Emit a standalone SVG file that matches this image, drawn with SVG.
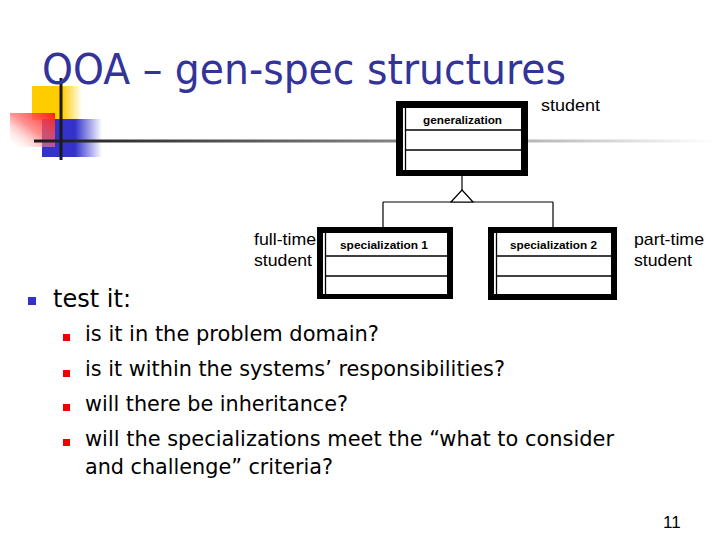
<svg xmlns="http://www.w3.org/2000/svg" width="720" height="540" viewBox="0 0 720 540">
<style>
.title{font-family:"DejaVu Sans","Liberation Sans",sans-serif;font-size:42px;fill:#333399}
.body{font-family:"DejaVu Sans","Liberation Sans",sans-serif;fill:#000}
.lbl{font-family:"Liberation Sans",Arial,sans-serif;font-size:17px;fill:#000}
.box{font-family:"Liberation Sans",Arial,sans-serif;font-size:11.5px;font-weight:bold;fill:#000}
.thin{stroke:#000;stroke-width:1.3;fill:none}
.conn{stroke:#000;stroke-width:1.2;fill:none}
</style>
<defs>
<linearGradient id="gy" x1="0" y1="0" x2="1" y2="0"><stop offset="0" stop-color="#ffcc00"/><stop offset="0.6" stop-color="#ffcc00"/><stop offset="1" stop-color="#ffcc00" stop-opacity="0"/></linearGradient>
<linearGradient id="gb" x1="0" y1="0" x2="1" y2="0"><stop offset="0" stop-color="#3333cc"/><stop offset="0.55" stop-color="#3333cc"/><stop offset="1" stop-color="#3333cc" stop-opacity="0"/></linearGradient>
<linearGradient id="gr" x1="1" y1="0" x2="0" y2="1"><stop offset="0" stop-color="#ff1a1a"/><stop offset="0.5" stop-color="#ff6666" stop-opacity="0.7"/><stop offset="1" stop-color="#ffffff" stop-opacity="0"/></linearGradient>
<linearGradient id="gl" x1="0" y1="0" x2="1" y2="0"><stop offset="0" stop-color="#1a1a1a"/><stop offset="0.55" stop-color="#888888"/><stop offset="1" stop-color="#ffffff"/></linearGradient>
</defs>
<rect width="720" height="540" fill="#fff"/>
<g id="logo">
<rect x="32" y="86" width="50" height="34" fill="url(#gy)"/>
<rect x="42" y="119" width="60" height="38" fill="url(#gb)"/>
<rect x="10" y="113" width="45" height="34" fill="url(#gr)"/>
<rect x="34" y="139.5" width="680" height="3" fill="url(#gl)"/>
<rect x="59.5" y="78" width="3" height="82" fill="#1a1a1a"/>
</g>
<text id="title" class="title" x="42" y="84" textLength="524" lengthAdjust="spacingAndGlyphs">OOA – gen-spec structures</text>
<g id="connectors">
<line class="conn" x1="462" y1="176" x2="462" y2="190"/>
<line class="conn" x1="383" y1="202" x2="553" y2="202"/>
<line class="conn" x1="383" y1="202" x2="383" y2="227"/>
<line class="conn" x1="553" y1="202" x2="553" y2="227"/>
<polygon points="462,190 451,202 473,202" fill="#fff" stroke="#000" stroke-width="1.2"/>
</g>
<g id="generalization">
<rect x="396" y="101" width="132" height="75" fill="#000"/>
<rect x="403" y="108" width="118" height="62" fill="#fff"/>
<line class="thin" x1="405.5" y1="108" x2="405.5" y2="170"/>
<line class="thin" x1="405" y1="130" x2="521" y2="130"/>
<line class="thin" x1="405" y1="150" x2="521" y2="150"/>
<text class="box" x="423" y="124" textLength="79" lengthAdjust="spacingAndGlyphs">generalization</text>
</g>
<g id="spec1">
<rect x="317" y="227" width="136" height="72" fill="#000"/>
<rect x="323" y="233" width="124" height="61" fill="#fff"/>
<line class="thin" x1="325.5" y1="233" x2="325.5" y2="294"/>
<line class="thin" x1="325" y1="256" x2="447" y2="256"/>
<line class="thin" x1="325" y1="276" x2="447" y2="276"/>
<text class="box" x="340" y="249" textLength="88" lengthAdjust="spacingAndGlyphs">specialization 1</text>
</g>
<g id="spec2">
<rect x="488" y="227" width="129" height="73" fill="#000"/>
<rect x="494" y="233" width="117" height="61" fill="#fff"/>
<line class="thin" x1="496.5" y1="233" x2="496.5" y2="294"/>
<line class="thin" x1="496" y1="256" x2="611" y2="256"/>
<line class="thin" x1="496" y1="276" x2="611" y2="276"/>
<text class="box" x="510" y="249" textLength="87" lengthAdjust="spacingAndGlyphs">specialization 2</text>
</g>
<g id="labels">
<text class="lbl" x="541" y="111" textLength="59" lengthAdjust="spacingAndGlyphs">student</text>
<text class="lbl" x="254" y="245" textLength="62" lengthAdjust="spacingAndGlyphs">full-time</text>
<text class="lbl" x="254" y="266" textLength="58" lengthAdjust="spacingAndGlyphs">student</text>
<text class="lbl" x="634" y="245" textLength="70" lengthAdjust="spacingAndGlyphs">part-time</text>
<text class="lbl" x="634" y="266" textLength="58" lengthAdjust="spacingAndGlyphs">student</text>
</g>
<g id="bullets">
<rect x="28" y="297" width="8" height="8" fill="#3333cc"/>
<text class="body" x="53" y="307" font-size="25" textLength="78" lengthAdjust="spacingAndGlyphs">test it:</text>
<rect x="63" y="334" width="7" height="7" fill="#ee0000"/>
<rect x="63" y="370" width="7" height="7" fill="#ee0000"/>
<rect x="63" y="404" width="7" height="7" fill="#ee0000"/>
<rect x="63" y="439" width="7" height="7" fill="#ee0000"/>
<text class="body" x="85" y="341" font-size="22" textLength="294" lengthAdjust="spacingAndGlyphs">is it in the problem domain?</text>
<text class="body" x="85" y="376" font-size="22" textLength="420" lengthAdjust="spacingAndGlyphs">is it within the systems’ responsibilities?</text>
<text class="body" x="85" y="411" font-size="22" textLength="263" lengthAdjust="spacingAndGlyphs">will there be inheritance?</text>
<text class="body" x="85" y="446" font-size="22" textLength="529" lengthAdjust="spacingAndGlyphs">will the specializations meet the “what to consider</text>
<text class="body" x="85" y="474" font-size="22" textLength="248" lengthAdjust="spacingAndGlyphs">and challenge” criteria?</text>
</g>
<text id="page" class="lbl" x="663" y="528" font-size="12">11</text>
</svg>
